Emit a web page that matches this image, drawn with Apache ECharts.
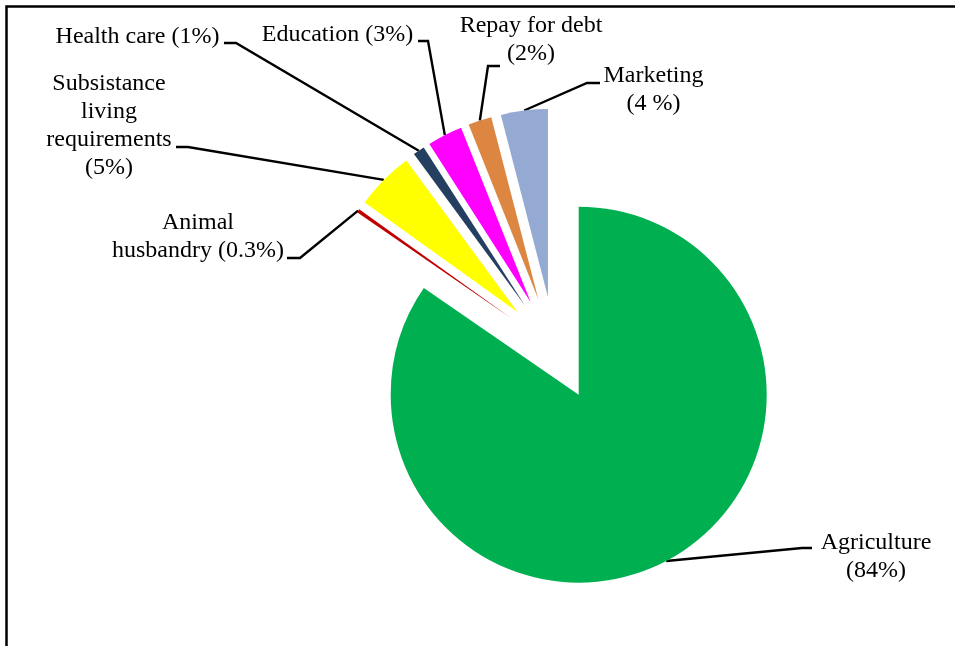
<!DOCTYPE html>
<html>
<head>
<meta charset="utf-8">
<script src="https://cdn.jsdelivr.net/npm/echarts@6/dist/echarts.min.js"></script>
<style>
  html, body { margin: 0; padding: 0; background: #ffffff; }
  #chart { width: 955px; height: 646px; }
</style>
</head>
<body>
<div id="chart"></div>
<script>
// Spending categories and their shares (%)
const categories = [
  'Agriculture',
  'Animal husbandry',
  'Subsistance living requirements',
  'Health care',
  'Education',
  'Repay for debt',
  'Marketing'
];
const shares = [84, 0.3, 5, 1, 3, 2, 4];
const labelTexts = [
  'Agriculture\n(84%)',
  'Animal\nhusbandry (0.3%)',
  'Subsistance\nliving\nrequirements\n(5%)',
  'Health care (1%)',
  'Education (3%)',
  'Repay for debt\n(2%)',
  'Marketing\n(4 %)'
];
const sliceColors = ['#00B050', '#C00000', '#FFFF00', '#243F60', '#FF00FF', '#DC8642', '#95AAD2'];

// Where each callout sits: text centre x, top of first line,
// the point where the leader meets the text and the elbow of the leader.
const labelPlacement = [
  { x: 876,   top: 529,  ax: 812, ex: 802, ay: 548 },
  { x: 198,   top: 209,  ax: 287, ex: 300, ay: 258 },
  { x: 109,   top: 70,   ax: 176, ex: 188, ay: 147 },
  { x: 137.5, top: 23,   ax: 224, ex: 236, ay: 43 },
  { x: 337.5, top: 21,   ax: 418, ex: 428, ay: 41 },
  { x: 531,   top: 11.5, ax: 500, ex: 488, ay: 66 },
  { x: 653.5, top: 62,   ax: 600, ex: 587, ay: 83 }
];

const PIE_CENTER = [554.5, 348.6];
const PIE_RADIUS = 188;
const EXPLODE = 52;

const chart = echarts.init(document.getElementById('chart'), null, { renderer: 'canvas' });

const pieData = categories.map(function (name, i) {
  return { name: name, value: shares[i] };
});

chart.setOption({
  animation: false,
  backgroundColor: '#ffffff',
  graphic: [{
    type: 'rect',
    silent: true,
    shape: { x: 6.5, y: 6.5, width: 1000, height: 1000 },
    style: { fill: 'none', stroke: '#000000', lineWidth: 2.5 }
  }],
  series: [
    // exploded slices
    {
      type: 'pie',
      center: PIE_CENTER,
      radius: PIE_RADIUS,
      startAngle: 90,
      clockwise: true,
      selectedMode: 'multiple',
      selectedOffset: EXPLODE,
      silent: true,
      emphasis: { disabled: true },
      itemStyle: { borderWidth: 0 },
      label: { show: false },
      labelLine: { show: false },
      data: pieData.map(function (d, i) {
        return {
          name: d.name,
          value: d.value,
          selected: true,
          itemStyle: { color: sliceColors[i] }
        };
      })
    },
    // callouts: an unfilled ring reaching the outer rim of the exploded slices
    {
      type: 'pie',
      center: PIE_CENTER,
      radius: PIE_RADIUS + EXPLODE,
      startAngle: 90,
      clockwise: true,
      silent: true,
      avoidLabelOverlap: false,
      emphasis: { disabled: true },
      itemStyle: { color: 'rgba(0,0,0,0)', borderWidth: 0 },
      label: {
        show: true,
        position: 'outside',
        color: '#000000',
        fontFamily: 'Liberation Serif',
        fontSize: 24,
        lineHeight: 28,
        formatter: function (p) { return labelTexts[p.dataIndex]; }
      },
      labelLine: {
        show: true,
        length: 15,
        length2: 12,
        lineStyle: { color: '#000000', width: 2.4 }
      },
      labelLayout: function (params) {
        const p = labelPlacement[params.dataIndex];
        const pts = params.labelLinePoints;
        return {
          x: p.x,
          y: p.top,
          align: 'center',
          verticalAlign: 'top',
          labelLinePoints: [pts[0], [p.ex, p.ay], [p.ax, p.ay]]
        };
      },
      data: pieData
    }
  ]
});
</script>
</body>
</html>
